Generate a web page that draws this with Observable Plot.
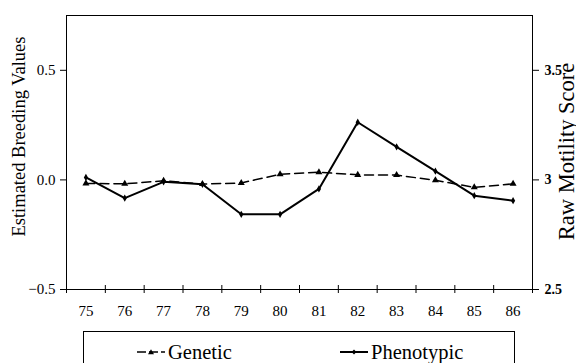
<!DOCTYPE html>
<html>
<head>
<meta charset="utf-8">
<script src="https://cdn.jsdelivr.net/npm/d3@7"></script>
<script src="https://cdn.jsdelivr.net/npm/@observablehq/plot@0.6"></script>
<style>
  html, body { margin: 0; padding: 0; background: white; overflow: hidden; }
  #wrap { position: relative; width: 576px; height: 363px; font-family: "Liberation Serif", "Times New Roman", serif; }
  #legend { position: absolute; left: 83px; top: 331px; width: 432px; height: 45px; border: 1px solid black; box-sizing: border-box; }
  .item { position: absolute; top: 8px; font-size: 20.5px; line-height: 24px; display: flex; align-items: center; }
  .item svg { margin-right: 3px; }
  #chart svg text { font-family: "Liberation Serif", "Times New Roman", serif; }
</style>
</head>
<body>
<div id="wrap">
  <div id="chart"></div>
  <div id="legend"></div>
</div>
<script>
const years = [75, 76, 77, 78, 79, 80, 81, 82, 83, 84, 85, 86];
const genetic = [-0.016, -0.018, -0.004, -0.019, -0.014, 0.026, 0.035, 0.023, 0.022, -0.002, -0.034, -0.018];
const phenotypic = [0.011, -0.083, -0.009, -0.02, -0.157, -0.157, -0.041, 0.263, 0.151, 0.04, -0.072, -0.095];
const yTicks = [-0.5, 0, 0.5];
const rightTickLabels = ["2.5", "3", "3.5"];
const leftTitle = "Estimated Breeding Values";
const rightTitle = "Raw Motility Score";
const seriesNames = ["Genetic", "Phenotypic"];

const serif = "Liberation Serif";
const data = years.map((yr, i) => ({year: yr, genetic: genetic[i], phenotypic: phenotypic[i]}));
const boundaries = years.map(y => y - 0.5).concat([years[years.length - 1] + 0.5]);

const chart = Plot.plot({
  width: 576,
  height: 325,
  marginLeft: 66,
  marginRight: 44,
  marginTop: 15,
  marginBottom: 36,
  style: {fontFamily: "Liberation Serif", fontSize: "15px", background: "white", color: "black", overflow: "visible"},
  x: {domain: [years[0] - 0.5, years[years.length - 1] + 0.5]},
  y: {domain: [-0.5, 0.75]},
  marks: [
    Plot.frame({stroke: "black"}),
    Plot.axisY({ticks: yTicks, tickFormat: d3.format(".1f"), tickSize: 6, tickPadding: 5, label: null, fontSize: 15, fontFamily: serif}),
    Plot.axisY({anchor: "right", ticks: yTicks, tickFormat: (d, i) => rightTickLabels[i], tickSize: 6, tickPadding: 6, label: null, fontWeight: "bold", fontSize: 14, fontFamily: serif}),
    Plot.axisX({ticks: years, tickFormat: d => String(d), tickSize: 0, tickPadding: 16, label: null, fontSize: 15, fontFamily: serif}),
    Plot.ruleX(boundaries, {x: d => d, y1: -0.5, y2: -0.5, insetTop: -4, insetBottom: -4, stroke: "black"}),
    Plot.line(data, {x: "year", y: "genetic", stroke: "black", strokeWidth: 1.5, strokeDasharray: "9,5"}),
    Plot.dot(data, {x: "year", y: "genetic", symbol: "triangle", r: 2.6, fill: "black", stroke: "none"}),
    Plot.line(data, {x: "year", y: "phenotypic", stroke: "black", strokeWidth: 2}),
    Plot.dot(data, {x: "year", y: "phenotypic", symbol: "diamond", r: 2.2, fill: "black", stroke: "none"}),
    Plot.text([leftTitle], {frameAnchor: "left", textAnchor: "middle", lineAnchor: "middle", dx: -47, dy: -16, rotate: -90, fontSize: 18.5, fontFamily: serif, text: d => d}),
    Plot.text([rightTitle], {frameAnchor: "right", textAnchor: "middle", lineAnchor: "middle", dx: 34, dy: -1, rotate: -90, fontSize: 22.5, fontFamily: serif, text: d => d})
  ]
});
document.getElementById("chart").appendChild(chart);

// legend
const legend = document.getElementById("legend");
const positions = [53, 256];
seriesNames.forEach((name, i) => {
  const item = document.createElement("div");
  item.className = "item";
  item.style.left = positions[i] + "px";
  const ns = "http://www.w3.org/2000/svg";
  const svg = document.createElementNS(ns, "svg");
  svg.setAttribute("width", 28);
  svg.setAttribute("height", 10);
  const line = document.createElementNS(ns, "line");
  line.setAttribute("x1", 0); line.setAttribute("x2", 28);
  line.setAttribute("y1", 5); line.setAttribute("y2", 5);
  line.setAttribute("stroke", "black");
  line.setAttribute("stroke-width", i === 0 ? 1.5 : 2);
  if (i === 0) line.setAttribute("stroke-dasharray", "9,3");
  svg.appendChild(line);
  const sym = document.createElementNS(ns, "path");
  sym.setAttribute("d", i === 0 ? "M14,2.2L17,7.2L11,7.2Z" : "M14,2.6L16.4,5L14,7.4L11.6,5Z");
  sym.setAttribute("fill", "black");
  svg.appendChild(sym);
  item.appendChild(svg);
  const label = document.createElement("span");
  label.textContent = name;
  item.appendChild(label);
  legend.appendChild(item);
});
</script>
</body>
</html>
